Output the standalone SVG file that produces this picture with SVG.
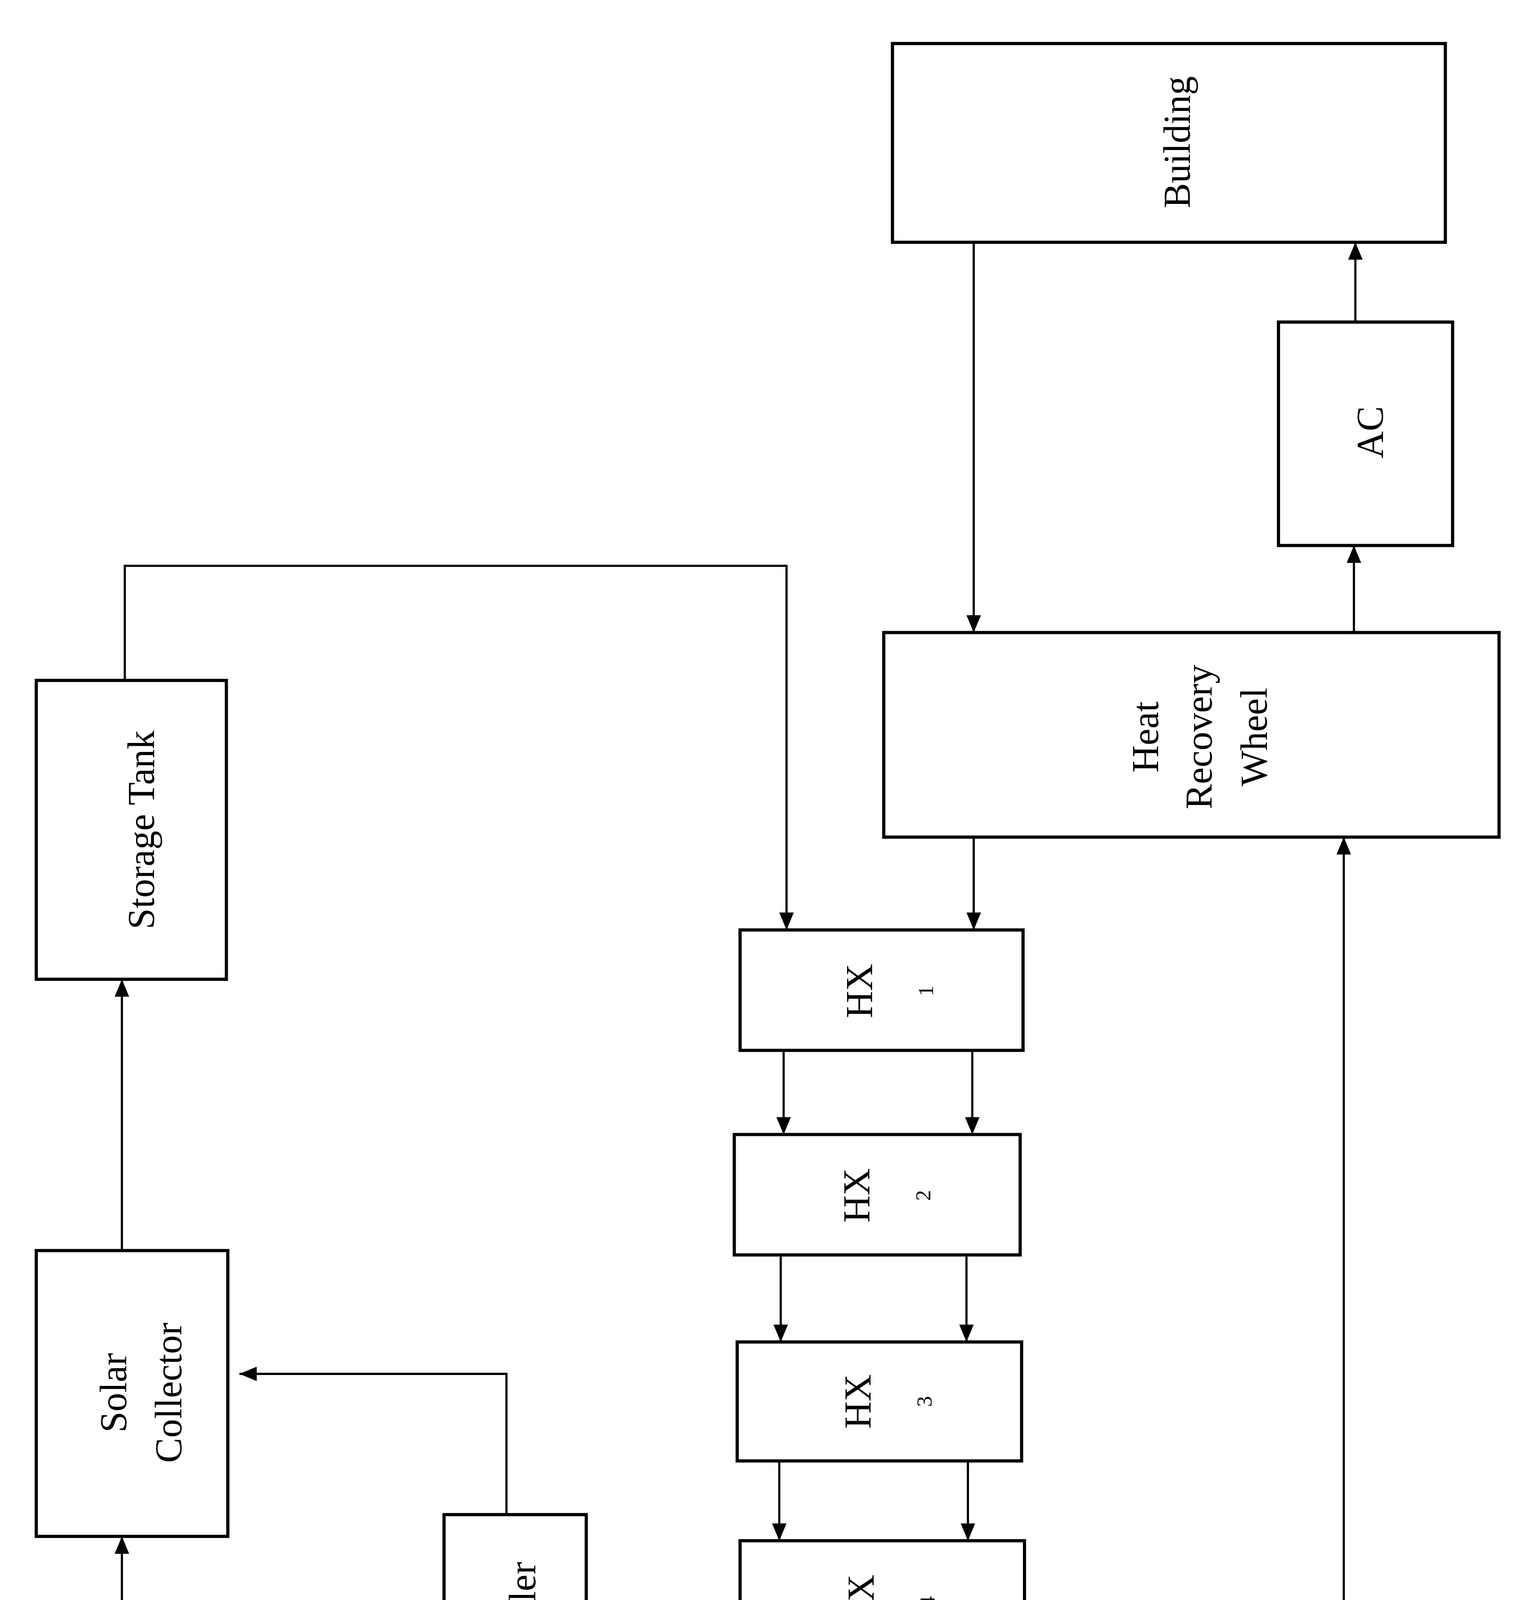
<svg xmlns="http://www.w3.org/2000/svg" width="3903" height="5770" viewBox="0 0 3903 5770">
<defs>
<style>
.b{fill:#fff;stroke:#000;stroke-width:2.2}
.c{fill:none;stroke:#000;stroke-width:1.5}
.t{font-family:"Liberation Serif",serif;font-size:26px;text-anchor:middle;fill:#000}
.s{font-family:"Liberation Serif",serif;font-size:15px;text-anchor:middle;fill:#000}
</style>
<marker id="a" markerUnits="userSpaceOnUse" markerWidth="12" markerHeight="10" refX="12" refY="5" orient="auto"><path d="M0,0L12,5L0,10z" fill="#000"/></marker>
</defs>
<rect width="3903" height="5770" fill="#fff"/>
<g transform="scale(3.714)">
<g id="connectors" class="c" marker-end="url(#a)">
<path d="M671,167V436"/>
<path d="M933,436V376"/>
<path d="M934,222V167"/>
<path d="M671,577V641"/>
<path d="M86,469V390H542V641"/>
<path d="M540,724V782"/><path d="M670,724V782"/>
<path d="M538,865V925"/><path d="M666,865V925"/>
<path d="M537,1007V1062"/><path d="M667,1007V1062"/>
<path d="M537,1146V1206"/>
<path d="M665,1146V1278"/>
<path d="M532,1260V1323H352V1217"/>
<path d="M349,1044V947H165"/>
<path d="M84,1246V1059"/>
<path d="M84,862V675"/>
<path d="M86,1437V1548H935V1417"/>
<path d="M926,1271V577"/>
<path d="M665,1417V1497"/>
</g>
<g id="building"><rect class="b" x="615" y="30" width="381" height="137"/><text class="t" transform="translate(820,98) rotate(-90)">Building</text></g>
<g id="ac"><rect class="b" x="881" y="222" width="120" height="154"/><text class="t" transform="translate(953,298) rotate(-90)">AC</text></g>
<g id="hrw"><rect class="b" x="609" y="436" width="424" height="141"/>
<text class="t" transform="translate(798,508) rotate(-90)">Heat</text>
<text class="t" transform="translate(835,508) rotate(-90)">Recovery</text>
<text class="t" transform="translate(873,508) rotate(-90)">Wheel</text></g>
<g id="storage"><rect class="b" x="25" y="469" width="131" height="206"/><text class="t" transform="translate(106,572) rotate(-90)">Storage Tank</text></g>
<g id="solar"><rect class="b" x="25" y="862" width="132" height="197"/>
<text class="t" transform="translate(87,960) rotate(-90)">Solar</text>
<text class="t" transform="translate(125,960) rotate(-90)">Collector</text></g>
<g id="controller"><rect class="b" x="306" y="1044" width="98" height="173"/><text class="t" transform="translate(369,1130) rotate(-90)">Controller</text></g>
<g id="weather"><rect class="b" x="25" y="1246" width="149" height="191"/><text class="t" transform="translate(116,1341) rotate(-90)">Weather Data</text></g>
<g id="hx1"><rect class="b" x="510" y="641" width="195" height="83"/><text class="t" transform="translate(601,683) rotate(-90)">HX</text><text class="s" transform="translate(643,683) rotate(-90)">1</text></g>
<g id="hx2"><rect class="b" x="506" y="782" width="197" height="83"/><text class="t" transform="translate(599,824) rotate(-90)">HX</text><text class="s" transform="translate(641,824) rotate(-90)">2</text></g>
<g id="hx3"><rect class="b" x="508" y="925" width="196" height="82"/><text class="t" transform="translate(600,966) rotate(-90)">HX</text><text class="s" transform="translate(642,966) rotate(-90)">3</text></g>
<g id="hx4"><rect class="b" x="510" y="1062" width="196" height="84"/><text class="t" transform="translate(602,1104) rotate(-90)">HX</text><text class="s" transform="translate(644,1104) rotate(-90)">4</text></g>
<g id="triangle"><path class="b" d="M503,1208H565L534,1260z"/></g>
<g id="desiccant"><rect class="b" x="617" y="1271" width="408" height="146"/>
<text class="t" transform="translate(817,1340) rotate(-90)">Desiccant</text>
<text class="t" transform="translate(855,1340) rotate(-90)">Wheel</text></g>
<g id="exhaust"><text class="t" transform="translate(645,1500) rotate(-90)">Exhaust</text></g>
</g>
</svg>
